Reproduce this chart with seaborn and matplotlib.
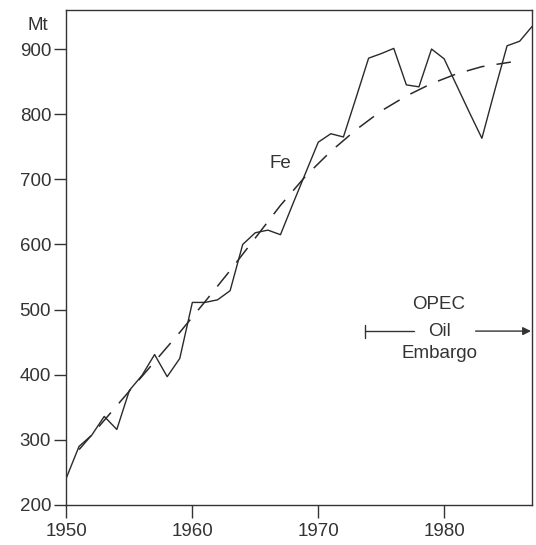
import matplotlib
matplotlib.use("Agg")
import matplotlib.pyplot as plt
import seaborn as sns
import pandas as pd

# Annual Fe production (Mt)
years = list(range(1950, 1988))
fe = [242, 290, 307, 336, 316, 376, 399, 431, 397, 425,
      511, 511, 515, 529, 600, 618, 622, 615, 663, 710,
      757, 770, 765, 825, 886, 893, 901, 845, 842, 900,
      885, 844, 803, 763, 835, 905, 912, 935]

# Dashed trend curve
trend_years = [1951, 1953, 1955, 1957, 1959, 1961, 1963, 1965, 1967,
               1969, 1971, 1973, 1975, 1977, 1979, 1981, 1983, 1985.3]
trend = [285, 330, 375, 420, 465, 512, 560, 610, 660,
         705, 743, 776, 805, 828, 847, 862, 873, 880]

x_ticks = [1950, 1960, 1970, 1980]
y_ticks = [200, 300, 400, 500, 600, 700, 800, 900]

sns.set_theme(style="ticks")
plt.rcParams['font.family'] = ['Liberation Sans', 'DejaVu Sans']

ink = "#333333"
fig = plt.figure(figsize=(5.36, 5.45), dpi=100)
ax = fig.add_axes([0.124, 0.0734, 0.869, 0.9083])

df = pd.DataFrame({"year": years, "fe": fe})
dt = pd.DataFrame({"year": trend_years, "trend": trend})
sns.lineplot(data=df, x="year", y="fe", ax=ax, color="#2a2a2a", lw=1.0)
sns.lineplot(data=dt, x="year", y="trend", ax=ax, color="#2a2a2a", lw=1.1,
             dashes=False, linestyle=(0, (12, 8)))

ax.set_xlim(1950, 1987)
ax.set_ylim(200, 960)
ax.set_xticks(x_ticks)
ax.set_yticks(y_ticks)
ax.set_xlabel("")
ax.set_ylabel("")
for s in ax.spines.values():
    s.set_visible(True)
    s.set_color(ink)
    s.set_linewidth(1.0)
ax.tick_params(axis="both", direction="out", length=9, width=1.0,
               color=ink, labelcolor=ink, labelsize=13.5)
ax.tick_params(axis="y", pad=2)
ax.tick_params(axis="x", pad=4)

fig.text(38 / 536, 1 - 26 / 545, "Mt", ha="center", va="center",
         fontsize=13.5, color=ink)
ax.text(1967, 725, "Fe", ha="center", va="center", fontsize=13.5, color=ink)

ax.text(1979.6, 508, "OPEC", ha="center", va="center", fontsize=13.5, color=ink)
ax.text(1979.6, 466, "Oil", ha="center", va="center", fontsize=13.5, color=ink)
ax.text(1979.6, 433, "Embargo", ha="center", va="center", fontsize=13.5, color=ink)
# embargo span bracket
ax.plot([1973.7, 1973.7], [457, 477], color=ink, lw=1.0)
ax.plot([1973.7, 1977.6], [467, 467], color=ink, lw=1.0)
ax.annotate("", xy=(1986.9, 467), xytext=(1982.5, 467),
            arrowprops=dict(arrowstyle="-|>", color=ink, lw=1.0,
                            mutation_scale=12, shrinkA=0, shrinkB=0))

fig.savefig("out.png", dpi=100, facecolor="white")
